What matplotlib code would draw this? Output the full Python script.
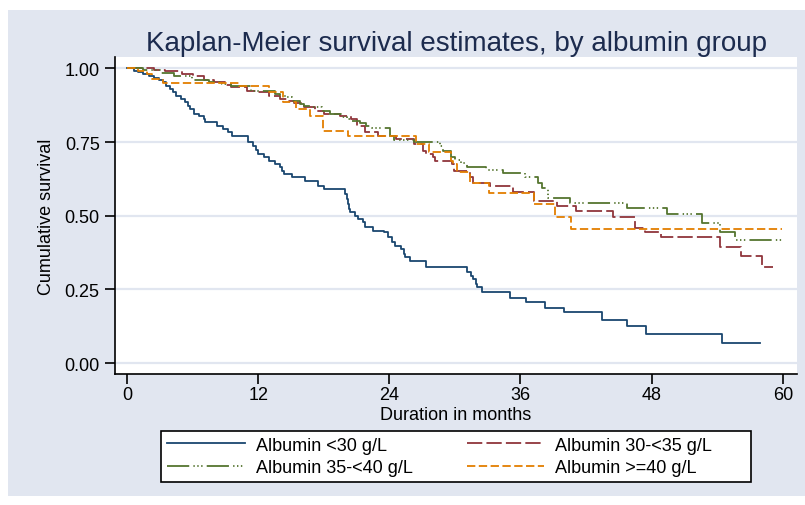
import matplotlib
matplotlib.use("Agg")
from matplotlib import pyplot as plt
from matplotlib.patches import Rectangle

plt.rcParams['font.family'] = ['Liberation Sans', 'DejaVu Sans']
plt.rcParams['lines.scale_dashes'] = False

# Kaplan-Meier step data (time in months, survival)
alb30_t = [0, 0.6, 1.0, 1.5, 2.0, 2.5, 2.9, 3.3, 3.6, 3.9, 4.2, 4.5, 4.9, 5.3, 5.6, 5.8,
           6.1, 6.6, 7.0, 7.1, 8.2, 8.8, 9.2, 9.6, 11.1, 11.5, 11.8, 12.0, 12.5, 13.0,
           13.5, 14.0, 14.2, 14.4, 15.1, 16.3, 17.5, 18.0, 19.9, 20.1, 20.2, 20.3, 20.4,
           20.9, 21.1, 21.6, 21.8, 22.5, 23.5, 23.9, 24.2, 24.5, 25.1, 25.3, 25.4, 25.9,
           27.4, 31.1, 31.5, 31.7, 31.9, 32.0, 32.5, 35.0, 36.5, 38.2, 40.0, 43.5, 45.7,
           47.5, 54.4, 57.9]
alb30_s = [1.0, .993, .987, .980, .973, .967, .960, .953, .940, .930, .920, .908, .897, .885,
           .874, .862, .845, .838, .827, .817, .806, .795, .783, .772, .750, .738, .722, .710,
           .698, .687, .676, .665, .653, .642, .630, .619, .602, .591, .574, .557, .540, .523,
           .512, .500, .489, .478, .461, .450, .444, .427, .410, .398, .387, .370, .359, .345,
           .326, .308, .296, .285, .270, .257, .240, .220, .206, .187, .174, .146, .126, .098,
           .067, .067]

alb35_t = [0, 2.5, 3.5, 5.0, 6.0, 7.0, 8.0, 9.0, 9.5, 11.0, 12.0, 13.0, 14.0, 14.7, 15.3,
           16.2, 17.2, 18.0, 19.5, 20.5, 21.0, 21.8, 23.0, 24.6, 26.3, 27.1, 27.4, 28.0, 28.2,
           29.7, 29.9, 31.4, 31.7, 33.2, 35.3, 37.2, 39.3, 41.1, 44.5, 46.5, 47.4, 48.9, 54.3,
           56.2, 58.1, 59.1]
alb35_s = [1.0, .995, .990, .980, .973, .962, .953, .945, .936, .925, .919, .908, .897, .888,
           .883, .868, .857, .846, .840, .829, .806, .783, .772, .761, .744, .721, .710, .698,
           .687, .676, .653, .630, .613, .600, .580, .551, .534, .517, .495, .458, .444, .427,
           .393, .364, .325, .325]

alb40_t = [0, 1.5, 3.0, 4.3, 5.9, 7.5, 8.7, 9.5, 11.3, 13.5, 14.0, 14.6, 15.1, 15.8, 16.2,
           16.8, 17.8, 18.6, 19.6, 20.1, 20.5, 21.3, 21.9, 22.4, 24.1, 24.4, 26.3, 28.6, 28.9,
           29.6, 30.0, 30.6, 31.1, 32.8, 34.4, 36.4, 37.6, 38.0, 38.5, 40.5, 45.7, 49.4, 52.6,
           54.3, 55.6, 59.9]
alb40_s = [1.0, .994, .985, .976, .962, .953, .947, .939, .925, .915, .908, .902, .890, .879,
           .874, .868, .857, .846, .836, .828, .823, .814, .806, .798, .772, .757, .749, .738,
           .721, .700, .690, .678, .664, .656, .645, .630, .613, .596, .562, .545, .528, .506,
           .476, .444, .418, .418]

albhi_t = [0, 1.0, 1.8, 2.3, 3.3, 10.2, 13.0, 14.3, 15.5, 16.7, 17.9, 20.2, 26.4, 27.6, 29.6,
           29.8, 30.2, 31.4, 33.1, 37.2, 39.2, 40.6, 59.9]
albhi_s = [1.0, .990, .980, .964, .951, .942, .919, .885, .862, .840, .789, .772, .744, .715,
           .687, .676, .647, .613, .577, .540, .497, .455, .455]

labels = ["Albumin <30 g/L", "Albumin 30-<35 g/L", "Albumin 35-<40 g/L", "Albumin >=40 g/L"]
xticks = [0, 12, 24, 36, 48, 60]
yticks = [0.0, 0.25, 0.5, 0.75, 1.0]

bg = '#E1E6F0'
W, H = 805, 506
fig = plt.figure(figsize=(W / 100, H / 100), dpi=100, facecolor='white')
fig.patches.append(Rectangle((8 / W, 1 - 497 / H), 1 - 8 / W, 486 / H,
                             transform=fig.transFigure, facecolor=bg, edgecolor='none', zorder=-5))
# legend box
fig.patches.append(Rectangle((161 / W, 1 - 483 / H), 590 / W, 51 / H,
                             transform=fig.transFigure, facecolor='white', edgecolor='black',
                             lw=1.2, zorder=-4))

ax = fig.add_axes([115 / W, 1 - 375 / H, 682 / W, 317 / H])
ax.set_facecolor('white')

styles = [
    dict(color='#1A476F', linestyle='solid'),
    dict(color='#90353B', linestyle=(0, (11, 3))),
    dict(color='#55752F', linestyle=(0, (16, 3, 1, 1.8, 1, 1.8, 1, 3))),
    dict(color='#E37E00', linestyle=(0, (6, 2.5))),
]
series = [(alb30_t, alb30_s), (alb35_t, alb35_s), (alb40_t, alb40_s), (albhi_t, albhi_s)]
handles = []
for (t, s), st, lab in zip(series, styles, labels):
    h, = ax.step(t, s, where='post', lw=1.3, label=lab, **st)
    handles.append(h)

ax.set_xlim(-1.1, 61.3)
ax.set_ylim(-0.037, 1.039)
ax.set_xticks(xticks)
ax.set_yticks(yticks)
ax.set_yticklabels([f"{v:.2f}" for v in yticks])
ax.yaxis.grid(True, color=bg, lw=1.6)
ax.set_axisbelow(True)
for side in ['top', 'right']:
    ax.spines[side].set_visible(False)
for side in ['left', 'bottom']:
    ax.spines[side].set_linewidth(1.2)
ax.tick_params(direction='out', length=7, width=1.2, labelsize=13, colors='black')
ax.tick_params(axis='y', pad=4)
ax.tick_params(axis='x', pad=2)
ax.set_xlabel("Duration in months", fontsize=13, labelpad=2)
ax.set_ylabel("Cumulative survival", fontsize=13, labelpad=7)

fig.text(456 / W, 1 - 44 / H, "Kaplan-Meier survival estimates, by albumin group",
         ha='center', va='center', fontsize=20, color='#1C2B4E')

order = [0, 2, 1, 3]
leg = fig.legend([handles[i] for i in order], [labels[i] for i in order],
                 loc='center left', bbox_to_anchor=(161 / W, 1 - 457.5 / H),
                 ncol=2, fontsize=13, handlelength=4.3, handletextpad=0.6,
                 columnspacing=3.0, borderpad=0.35, labelspacing=0.3, borderaxespad=0,
                 frameon=False)

fig.savefig("out.png", dpi=100, facecolor='white')
